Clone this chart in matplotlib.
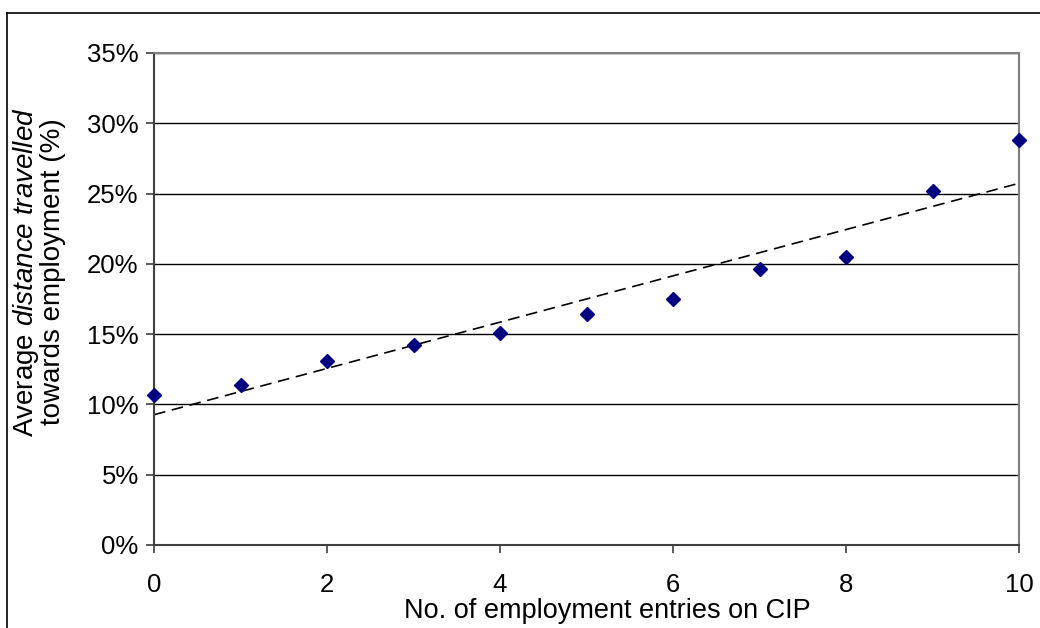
import numpy as np
import matplotlib.pyplot as plt
from matplotlib.lines import Line2D

plt.rcParams['font.family'] = ['Liberation Sans', 'DejaVu Sans']
plt.rcParams['mathtext.fontset'] = 'custom'
plt.rcParams['mathtext.rm'] = 'Liberation Sans'
plt.rcParams['mathtext.it'] = 'Liberation Sans:italic'

# Data: number of employment entries vs average distance travelled (%)
entries = np.array([0, 1, 2, 3, 4, 5, 6, 7, 8, 9, 10])
distance = np.array([10.7, 11.4, 13.1, 14.2, 15.1, 16.4, 17.5, 19.6, 20.5, 25.2, 28.8])
x_ticks = [0, 2, 4, 6, 8, 10]
y_ticks = [0, 5, 10, 15, 20, 25, 30, 35]

# linear trendline
slope, intercept = np.polyfit(entries, distance, 1)
trend_x = np.array([0, 10])
trend_y = intercept + slope * trend_x

W, H = 1040, 628
fig = plt.figure(figsize=(W / 100, H / 100), dpi=100)
ax = fig.add_axes([154 / W, 1 - 545 / H, (1019 - 154) / W, (545 - 53) / H])

for yv in y_ticks[1:]:
    ax.axhline(yv, color='black', lw=1.0, zorder=1)

ax.plot(trend_x, trend_y, color='black', lw=1.2, ls=(0, (7, 4)), zorder=2)
ax.plot(entries, distance, 'D', color='#000080', ms=6.8, mec='#000080', zorder=3,
        clip_on=False)

ax.set_xlim(0, 10)
ax.set_ylim(0, 35)
ax.set_xticks(x_ticks)
ax.set_yticks(y_ticks)
ax.set_yticklabels([f'{v}%' for v in y_ticks])
ax.tick_params(axis='both', direction='out', length=6, width=1.2, color='#404040',
               labelsize=18.5)
ax.tick_params(axis='x', pad=14)
ax.tick_params(axis='y', pad=5)

for side in ['top', 'right']:
    ax.spines[side].set_color('#808080')
    ax.spines[side].set_linewidth(1.5)
for side in ['left', 'bottom']:
    ax.spines[side].set_color('#404040')
    ax.spines[side].set_linewidth(1.5)

fig.text(607 / W, 1 - 618 / H, 'No. of employment entries on CIP', ha='center',
         va='baseline', fontsize=19.5)
fig.text(39 / W, 1 - 272 / H,
         'Average $\\mathit{distance\\ travelled}$\ntowards employment (%)',
         rotation=90, ha='center', va='center', fontsize=20, linespacing=0.95)

# outer frame (top and left edges)
fig.add_artist(Line2D([7 / W, 1], [1 - 13 / H, 1 - 13 / H], color='black', lw=1.2))
fig.add_artist(Line2D([7 / W, 7 / W], [0, 1 - 13 / H], color='black', lw=1.2))

fig.savefig('out.png', dpi=100)
